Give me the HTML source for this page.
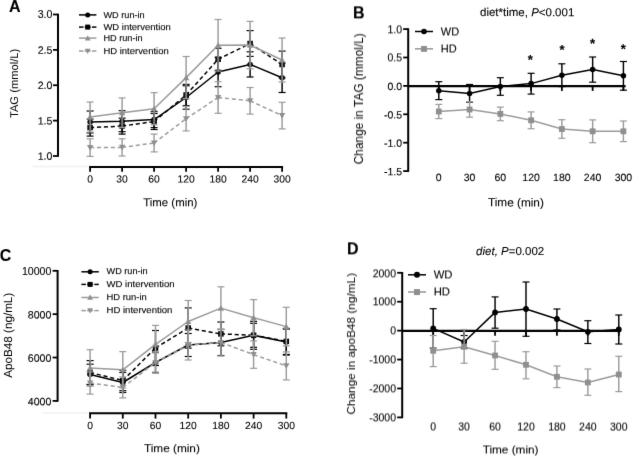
<!DOCTYPE html>
<html><head><meta charset="utf-8"><style>
html,body{margin:0;padding:0;background:#fff;width:633px;height:457px;overflow:hidden;}
svg{display:block;filter:grayscale(1);}
text{stroke:#000;stroke-width:0.1px;}
text.lg{stroke-width:0.12px;}
text.yl{stroke-width:0px;}
</style></head><body>
<svg width="633" height="457" viewBox="0 0 633 457">
<defs><filter id="bl" x="0" y="0" width="1" height="1" filterUnits="objectBoundingBox"><feConvolveMatrix order="3" kernelMatrix="0.00524 0.06192 0.00524 0.06192 0.73137 0.06192 0.00524 0.06192 0.00524" edgeMode="none" preserveAlpha="false"/></filter></defs>
<rect width="633" height="457" fill="#fff"/>
<g font-family='"Liberation Sans", sans-serif' filter="url(#bl)">
<line x1="58.00" y1="13.70" x2="58.00" y2="156.80" stroke="#000" stroke-width="2.0" />
<line x1="53.00" y1="14.50" x2="58.00" y2="14.50" stroke="#000" stroke-width="1.8" />
<line x1="53.00" y1="49.88" x2="58.00" y2="49.88" stroke="#000" stroke-width="1.8" />
<line x1="53.00" y1="85.25" x2="58.00" y2="85.25" stroke="#000" stroke-width="1.8" />
<line x1="53.00" y1="120.62" x2="58.00" y2="120.62" stroke="#000" stroke-width="1.8" />
<line x1="53.00" y1="156.00" x2="58.00" y2="156.00" stroke="#000" stroke-width="1.8" />
<line x1="32.00" y1="166.40" x2="88.00" y2="166.40" stroke="#f4f4f4" stroke-width="2.0" />
<line x1="89.10" y1="167.00" x2="283.10" y2="167.00" stroke="#000" stroke-width="2.0" />
<line x1="90.10" y1="167.00" x2="90.10" y2="171.80" stroke="#000" stroke-width="1.8" />
<line x1="122.10" y1="167.00" x2="122.10" y2="171.80" stroke="#000" stroke-width="1.8" />
<line x1="154.10" y1="167.00" x2="154.10" y2="171.80" stroke="#000" stroke-width="1.8" />
<line x1="186.10" y1="167.00" x2="186.10" y2="171.80" stroke="#000" stroke-width="1.8" />
<line x1="218.10" y1="167.00" x2="218.10" y2="171.80" stroke="#000" stroke-width="1.8" />
<line x1="250.10" y1="167.00" x2="250.10" y2="171.80" stroke="#000" stroke-width="1.8" />
<line x1="282.10" y1="167.00" x2="282.10" y2="171.80" stroke="#000" stroke-width="1.8" />
<line x1="79.00" y1="14.90" x2="96.40" y2="14.90" stroke="#000" stroke-width="1.5" />
<circle cx="87.70" cy="14.90" r="2.50" fill="#000"/>
<line x1="79.00" y1="27.10" x2="83.50" y2="27.10" stroke="#000" stroke-width="1.5" />
<line x1="91.90" y1="27.10" x2="96.40" y2="27.10" stroke="#000" stroke-width="1.5" />
<line x1="84.70" y1="27.10" x2="90.70" y2="27.10" stroke="#000" stroke-width="1.5" />
<rect x="85.20" y="24.60" width="5.00" height="5.00" fill="#000"/>
<line x1="79.00" y1="38.10" x2="96.40" y2="38.10" stroke="#9b9b9b" stroke-width="1.5" />
<path d="M87.70,35.20 L90.60,40.40 L84.80,40.40Z" fill="#8f8f8f"/>
<line x1="79.00" y1="51.00" x2="83.50" y2="51.00" stroke="#9b9b9b" stroke-width="1.5" />
<line x1="91.90" y1="51.00" x2="96.40" y2="51.00" stroke="#9b9b9b" stroke-width="1.5" />
<line x1="84.70" y1="51.00" x2="90.70" y2="51.00" stroke="#9b9b9b" stroke-width="1.5" />
<path d="M87.70,53.90 L90.60,48.70 L84.80,48.70Z" fill="#8f8f8f"/>
<line x1="90.10" y1="111.00" x2="90.10" y2="133.00" stroke="#000" stroke-width="1.45" />
<line x1="86.60" y1="111.00" x2="93.60" y2="111.00" stroke="#000" stroke-width="1.2" />
<line x1="86.60" y1="133.00" x2="93.60" y2="133.00" stroke="#000" stroke-width="1.2" />
<line x1="122.10" y1="110.70" x2="122.10" y2="131.70" stroke="#000" stroke-width="1.45" />
<line x1="118.60" y1="110.70" x2="125.60" y2="110.70" stroke="#000" stroke-width="1.2" />
<line x1="118.60" y1="131.70" x2="125.60" y2="131.70" stroke="#000" stroke-width="1.2" />
<line x1="154.10" y1="111.60" x2="154.10" y2="127.60" stroke="#000" stroke-width="1.45" />
<line x1="150.60" y1="111.60" x2="157.60" y2="111.60" stroke="#000" stroke-width="1.2" />
<line x1="150.60" y1="127.60" x2="157.60" y2="127.60" stroke="#000" stroke-width="1.2" />
<line x1="186.10" y1="85.80" x2="186.10" y2="109.20" stroke="#000" stroke-width="1.45" />
<line x1="182.60" y1="85.80" x2="189.60" y2="85.80" stroke="#000" stroke-width="1.2" />
<line x1="182.60" y1="109.20" x2="189.60" y2="109.20" stroke="#000" stroke-width="1.2" />
<line x1="218.10" y1="57.30" x2="218.10" y2="86.70" stroke="#000" stroke-width="1.45" />
<line x1="214.60" y1="57.30" x2="221.60" y2="57.30" stroke="#000" stroke-width="1.2" />
<line x1="214.60" y1="86.70" x2="221.60" y2="86.70" stroke="#000" stroke-width="1.2" />
<line x1="250.10" y1="51.80" x2="250.10" y2="77.00" stroke="#000" stroke-width="1.45" />
<line x1="246.60" y1="51.80" x2="253.60" y2="51.80" stroke="#000" stroke-width="1.2" />
<line x1="246.60" y1="77.00" x2="253.60" y2="77.00" stroke="#000" stroke-width="1.2" />
<line x1="282.10" y1="63.10" x2="282.10" y2="92.50" stroke="#000" stroke-width="1.45" />
<line x1="278.60" y1="63.10" x2="285.60" y2="63.10" stroke="#000" stroke-width="1.2" />
<line x1="278.60" y1="92.50" x2="285.60" y2="92.50" stroke="#000" stroke-width="1.2" />
<polyline points="90.10,122.00 122.10,121.20 154.10,119.60 186.10,97.50 218.10,72.00 250.10,64.40 282.10,77.80" fill="none" stroke="#000" stroke-width="1.5" stroke-linejoin="round" />
<circle cx="90.10" cy="122.00" r="2.75" fill="#000"/>
<circle cx="122.10" cy="121.20" r="2.75" fill="#000"/>
<circle cx="154.10" cy="119.60" r="2.75" fill="#000"/>
<circle cx="186.10" cy="97.50" r="2.75" fill="#000"/>
<circle cx="218.10" cy="72.00" r="2.75" fill="#000"/>
<circle cx="250.10" cy="64.40" r="2.75" fill="#000"/>
<circle cx="282.10" cy="77.80" r="2.75" fill="#000"/>
<line x1="90.10" y1="119.10" x2="90.10" y2="136.10" stroke="#000" stroke-width="1.45" />
<line x1="86.60" y1="119.10" x2="93.60" y2="119.10" stroke="#000" stroke-width="1.2" />
<line x1="86.60" y1="136.10" x2="93.60" y2="136.10" stroke="#000" stroke-width="1.2" />
<line x1="122.10" y1="118.10" x2="122.10" y2="134.10" stroke="#000" stroke-width="1.45" />
<line x1="118.60" y1="118.10" x2="125.60" y2="118.10" stroke="#000" stroke-width="1.2" />
<line x1="118.60" y1="134.10" x2="125.60" y2="134.10" stroke="#000" stroke-width="1.2" />
<line x1="154.10" y1="113.50" x2="154.10" y2="129.50" stroke="#000" stroke-width="1.45" />
<line x1="150.60" y1="113.50" x2="157.60" y2="113.50" stroke="#000" stroke-width="1.2" />
<line x1="150.60" y1="129.50" x2="157.60" y2="129.50" stroke="#000" stroke-width="1.2" />
<line x1="186.10" y1="84.40" x2="186.10" y2="105.60" stroke="#000" stroke-width="1.45" />
<line x1="182.60" y1="84.40" x2="189.60" y2="84.40" stroke="#000" stroke-width="1.2" />
<line x1="182.60" y1="105.60" x2="189.60" y2="105.60" stroke="#000" stroke-width="1.2" />
<line x1="218.10" y1="48.30" x2="218.10" y2="70.30" stroke="#000" stroke-width="1.45" />
<line x1="214.60" y1="48.30" x2="221.60" y2="48.30" stroke="#000" stroke-width="1.2" />
<line x1="214.60" y1="70.30" x2="221.60" y2="70.30" stroke="#000" stroke-width="1.2" />
<line x1="250.10" y1="30.60" x2="250.10" y2="56.40" stroke="#000" stroke-width="1.45" />
<line x1="246.60" y1="30.60" x2="253.60" y2="30.60" stroke="#000" stroke-width="1.2" />
<line x1="246.60" y1="56.40" x2="253.60" y2="56.40" stroke="#000" stroke-width="1.2" />
<line x1="282.10" y1="51.10" x2="282.10" y2="77.90" stroke="#000" stroke-width="1.45" />
<line x1="278.60" y1="51.10" x2="285.60" y2="51.10" stroke="#000" stroke-width="1.2" />
<line x1="278.60" y1="77.90" x2="285.60" y2="77.90" stroke="#000" stroke-width="1.2" />
<line x1="90.10" y1="127.60" x2="122.10" y2="126.10" stroke="#000" stroke-width="1.5" stroke-dasharray="4.1 2.8"/>
<line x1="122.10" y1="126.10" x2="154.10" y2="121.50" stroke="#000" stroke-width="1.5" stroke-dasharray="4.1 2.8"/>
<line x1="154.10" y1="121.50" x2="186.10" y2="95.00" stroke="#000" stroke-width="1.5" stroke-dasharray="4.1 2.8"/>
<line x1="186.10" y1="95.00" x2="218.10" y2="59.30" stroke="#000" stroke-width="1.5" stroke-dasharray="4.1 2.8"/>
<line x1="218.10" y1="59.30" x2="250.10" y2="43.50" stroke="#000" stroke-width="1.5" stroke-dasharray="4.1 2.8"/>
<line x1="250.10" y1="43.50" x2="282.10" y2="64.50" stroke="#000" stroke-width="1.5" stroke-dasharray="4.1 2.8"/>
<rect x="87.35" y="124.85" width="5.50" height="5.50" fill="#000"/>
<rect x="119.35" y="123.35" width="5.50" height="5.50" fill="#000"/>
<rect x="151.35" y="118.75" width="5.50" height="5.50" fill="#000"/>
<rect x="183.35" y="92.25" width="5.50" height="5.50" fill="#000"/>
<rect x="215.35" y="56.55" width="5.50" height="5.50" fill="#000"/>
<rect x="247.35" y="40.75" width="5.50" height="5.50" fill="#000"/>
<rect x="279.35" y="61.75" width="5.50" height="5.50" fill="#000"/>
<line x1="90.10" y1="102.00" x2="90.10" y2="132.00" stroke="#9b9b9b" stroke-width="1.45" />
<line x1="86.60" y1="102.00" x2="93.60" y2="102.00" stroke="#9b9b9b" stroke-width="1.2" />
<line x1="86.60" y1="132.00" x2="93.60" y2="132.00" stroke="#9b9b9b" stroke-width="1.2" />
<line x1="122.10" y1="97.90" x2="122.10" y2="127.50" stroke="#9b9b9b" stroke-width="1.45" />
<line x1="118.60" y1="97.90" x2="125.60" y2="97.90" stroke="#9b9b9b" stroke-width="1.2" />
<line x1="118.60" y1="127.50" x2="125.60" y2="127.50" stroke="#9b9b9b" stroke-width="1.2" />
<line x1="154.10" y1="92.60" x2="154.10" y2="124.80" stroke="#9b9b9b" stroke-width="1.45" />
<line x1="150.60" y1="92.60" x2="157.60" y2="92.60" stroke="#9b9b9b" stroke-width="1.2" />
<line x1="150.60" y1="124.80" x2="157.60" y2="124.80" stroke="#9b9b9b" stroke-width="1.2" />
<line x1="186.10" y1="56.50" x2="186.10" y2="98.70" stroke="#9b9b9b" stroke-width="1.45" />
<line x1="182.60" y1="56.50" x2="189.60" y2="56.50" stroke="#9b9b9b" stroke-width="1.2" />
<line x1="182.60" y1="98.70" x2="189.60" y2="98.70" stroke="#9b9b9b" stroke-width="1.2" />
<line x1="218.10" y1="19.50" x2="218.10" y2="71.10" stroke="#9b9b9b" stroke-width="1.45" />
<line x1="214.60" y1="19.50" x2="221.60" y2="19.50" stroke="#9b9b9b" stroke-width="1.2" />
<line x1="214.60" y1="71.10" x2="221.60" y2="71.10" stroke="#9b9b9b" stroke-width="1.2" />
<line x1="250.10" y1="21.40" x2="250.10" y2="68.80" stroke="#9b9b9b" stroke-width="1.45" />
<line x1="246.60" y1="21.40" x2="253.60" y2="21.40" stroke="#9b9b9b" stroke-width="1.2" />
<line x1="246.60" y1="68.80" x2="253.60" y2="68.80" stroke="#9b9b9b" stroke-width="1.2" />
<line x1="282.10" y1="38.00" x2="282.10" y2="82.00" stroke="#9b9b9b" stroke-width="1.45" />
<line x1="278.60" y1="38.00" x2="285.60" y2="38.00" stroke="#9b9b9b" stroke-width="1.2" />
<line x1="278.60" y1="82.00" x2="285.60" y2="82.00" stroke="#9b9b9b" stroke-width="1.2" />
<polyline points="90.10,117.00 122.10,112.70 154.10,108.70 186.10,77.60 218.10,45.30 250.10,45.10 282.10,60.00" fill="none" stroke="#9b9b9b" stroke-width="1.5" stroke-linejoin="round" />
<path d="M90.10,113.85 L93.25,119.55 L86.95,119.55Z" fill="#8f8f8f"/>
<path d="M122.10,109.55 L125.25,115.25 L118.95,115.25Z" fill="#8f8f8f"/>
<path d="M154.10,105.55 L157.25,111.25 L150.95,111.25Z" fill="#8f8f8f"/>
<path d="M186.10,74.45 L189.25,80.15 L182.95,80.15Z" fill="#8f8f8f"/>
<path d="M218.10,42.15 L221.25,47.85 L214.95,47.85Z" fill="#8f8f8f"/>
<path d="M250.10,41.95 L253.25,47.65 L246.95,47.65Z" fill="#8f8f8f"/>
<path d="M282.10,56.85 L285.25,62.55 L278.95,62.55Z" fill="#8f8f8f"/>
<line x1="90.10" y1="138.80" x2="90.10" y2="156.40" stroke="#9b9b9b" stroke-width="1.45" />
<line x1="86.60" y1="138.80" x2="93.60" y2="138.80" stroke="#9b9b9b" stroke-width="1.2" />
<line x1="86.60" y1="156.40" x2="93.60" y2="156.40" stroke="#9b9b9b" stroke-width="1.2" />
<line x1="122.10" y1="138.80" x2="122.10" y2="156.00" stroke="#9b9b9b" stroke-width="1.45" />
<line x1="118.60" y1="138.80" x2="125.60" y2="138.80" stroke="#9b9b9b" stroke-width="1.2" />
<line x1="118.60" y1="156.00" x2="125.60" y2="156.00" stroke="#9b9b9b" stroke-width="1.2" />
<line x1="154.10" y1="134.10" x2="154.10" y2="151.90" stroke="#9b9b9b" stroke-width="1.45" />
<line x1="150.60" y1="134.10" x2="157.60" y2="134.10" stroke="#9b9b9b" stroke-width="1.2" />
<line x1="150.60" y1="151.90" x2="157.60" y2="151.90" stroke="#9b9b9b" stroke-width="1.2" />
<line x1="186.10" y1="106.50" x2="186.10" y2="130.90" stroke="#9b9b9b" stroke-width="1.45" />
<line x1="182.60" y1="106.50" x2="189.60" y2="106.50" stroke="#9b9b9b" stroke-width="1.2" />
<line x1="182.60" y1="130.90" x2="189.60" y2="130.90" stroke="#9b9b9b" stroke-width="1.2" />
<line x1="218.10" y1="81.70" x2="218.10" y2="113.30" stroke="#9b9b9b" stroke-width="1.45" />
<line x1="214.60" y1="81.70" x2="221.60" y2="81.70" stroke="#9b9b9b" stroke-width="1.2" />
<line x1="214.60" y1="113.30" x2="221.60" y2="113.30" stroke="#9b9b9b" stroke-width="1.2" />
<line x1="250.10" y1="87.50" x2="250.10" y2="114.10" stroke="#9b9b9b" stroke-width="1.45" />
<line x1="246.60" y1="87.50" x2="253.60" y2="87.50" stroke="#9b9b9b" stroke-width="1.2" />
<line x1="246.60" y1="114.10" x2="253.60" y2="114.10" stroke="#9b9b9b" stroke-width="1.2" />
<line x1="282.10" y1="102.30" x2="282.10" y2="128.90" stroke="#9b9b9b" stroke-width="1.45" />
<line x1="278.60" y1="102.30" x2="285.60" y2="102.30" stroke="#9b9b9b" stroke-width="1.2" />
<line x1="278.60" y1="128.90" x2="285.60" y2="128.90" stroke="#9b9b9b" stroke-width="1.2" />
<line x1="90.10" y1="147.60" x2="122.10" y2="147.40" stroke="#9b9b9b" stroke-width="1.5" stroke-dasharray="4.1 2.8"/>
<line x1="122.10" y1="147.40" x2="154.10" y2="143.00" stroke="#9b9b9b" stroke-width="1.5" stroke-dasharray="4.1 2.8"/>
<line x1="154.10" y1="143.00" x2="186.10" y2="118.70" stroke="#9b9b9b" stroke-width="1.5" stroke-dasharray="4.1 2.8"/>
<line x1="186.10" y1="118.70" x2="218.10" y2="97.50" stroke="#9b9b9b" stroke-width="1.5" stroke-dasharray="4.1 2.8"/>
<line x1="218.10" y1="97.50" x2="250.10" y2="100.80" stroke="#9b9b9b" stroke-width="1.5" stroke-dasharray="4.1 2.8"/>
<line x1="250.10" y1="100.80" x2="282.10" y2="115.60" stroke="#9b9b9b" stroke-width="1.5" stroke-dasharray="4.1 2.8"/>
<path d="M90.10,150.75 L93.25,145.05 L86.95,145.05Z" fill="#8f8f8f"/>
<path d="M122.10,150.55 L125.25,144.85 L118.95,144.85Z" fill="#8f8f8f"/>
<path d="M154.10,146.15 L157.25,140.45 L150.95,140.45Z" fill="#8f8f8f"/>
<path d="M186.10,121.85 L189.25,116.15 L182.95,116.15Z" fill="#8f8f8f"/>
<path d="M218.10,100.65 L221.25,94.95 L214.95,94.95Z" fill="#8f8f8f"/>
<path d="M250.10,103.95 L253.25,98.25 L246.95,98.25Z" fill="#8f8f8f"/>
<path d="M282.10,118.75 L285.25,113.05 L278.95,113.05Z" fill="#8f8f8f"/>
<line x1="57.60" y1="270.00" x2="57.60" y2="401.70" stroke="#000" stroke-width="2.0" />
<line x1="52.60" y1="270.80" x2="57.60" y2="270.80" stroke="#000" stroke-width="1.8" />
<line x1="52.60" y1="314.17" x2="57.60" y2="314.17" stroke="#000" stroke-width="1.8" />
<line x1="52.60" y1="357.53" x2="57.60" y2="357.53" stroke="#000" stroke-width="1.8" />
<line x1="52.60" y1="400.90" x2="57.60" y2="400.90" stroke="#000" stroke-width="1.8" />
<line x1="43.00" y1="412.90" x2="88.00" y2="412.90" stroke="#f4f4f4" stroke-width="2.0" />
<line x1="89.10" y1="413.30" x2="287.30" y2="413.30" stroke="#000" stroke-width="2.0" />
<line x1="90.10" y1="413.30" x2="90.10" y2="418.60" stroke="#000" stroke-width="1.8" />
<line x1="122.80" y1="413.30" x2="122.80" y2="418.60" stroke="#000" stroke-width="1.8" />
<line x1="155.50" y1="413.30" x2="155.50" y2="418.60" stroke="#000" stroke-width="1.8" />
<line x1="188.20" y1="413.30" x2="188.20" y2="418.60" stroke="#000" stroke-width="1.8" />
<line x1="220.90" y1="413.30" x2="220.90" y2="418.60" stroke="#000" stroke-width="1.8" />
<line x1="253.60" y1="413.30" x2="253.60" y2="418.60" stroke="#000" stroke-width="1.8" />
<line x1="286.30" y1="413.30" x2="286.30" y2="418.60" stroke="#000" stroke-width="1.8" />
<line x1="81.40" y1="271.80" x2="98.80" y2="271.80" stroke="#000" stroke-width="1.5" />
<circle cx="90.10" cy="271.80" r="2.50" fill="#000"/>
<line x1="81.40" y1="284.40" x2="85.90" y2="284.40" stroke="#000" stroke-width="1.5" />
<line x1="94.30" y1="284.40" x2="98.80" y2="284.40" stroke="#000" stroke-width="1.5" />
<line x1="87.10" y1="284.40" x2="93.10" y2="284.40" stroke="#000" stroke-width="1.5" />
<rect x="87.60" y="281.90" width="5.00" height="5.00" fill="#000"/>
<line x1="81.40" y1="297.50" x2="98.80" y2="297.50" stroke="#9b9b9b" stroke-width="1.5" />
<path d="M90.10,294.60 L93.00,299.80 L87.20,299.80Z" fill="#8f8f8f"/>
<line x1="81.40" y1="310.60" x2="85.90" y2="310.60" stroke="#9b9b9b" stroke-width="1.5" />
<line x1="94.30" y1="310.60" x2="98.80" y2="310.60" stroke="#9b9b9b" stroke-width="1.5" />
<line x1="87.10" y1="310.60" x2="93.10" y2="310.60" stroke="#9b9b9b" stroke-width="1.5" />
<path d="M90.10,313.50 L93.00,308.30 L87.20,308.30Z" fill="#8f8f8f"/>
<line x1="90.10" y1="364.20" x2="90.10" y2="384.80" stroke="#000" stroke-width="1.45" />
<line x1="86.60" y1="364.20" x2="93.60" y2="364.20" stroke="#000" stroke-width="1.2" />
<line x1="86.60" y1="384.80" x2="93.60" y2="384.80" stroke="#000" stroke-width="1.2" />
<line x1="122.80" y1="372.50" x2="122.80" y2="392.50" stroke="#000" stroke-width="1.45" />
<line x1="119.30" y1="372.50" x2="126.30" y2="372.50" stroke="#000" stroke-width="1.2" />
<line x1="119.30" y1="392.50" x2="126.30" y2="392.50" stroke="#000" stroke-width="1.2" />
<line x1="155.50" y1="352.20" x2="155.50" y2="372.80" stroke="#000" stroke-width="1.45" />
<line x1="152.00" y1="352.20" x2="159.00" y2="352.20" stroke="#000" stroke-width="1.2" />
<line x1="152.00" y1="372.80" x2="159.00" y2="372.80" stroke="#000" stroke-width="1.2" />
<line x1="188.20" y1="333.50" x2="188.20" y2="356.50" stroke="#000" stroke-width="1.45" />
<line x1="184.70" y1="333.50" x2="191.70" y2="333.50" stroke="#000" stroke-width="1.2" />
<line x1="184.70" y1="356.50" x2="191.70" y2="356.50" stroke="#000" stroke-width="1.2" />
<line x1="220.90" y1="329.50" x2="220.90" y2="355.50" stroke="#000" stroke-width="1.45" />
<line x1="217.40" y1="329.50" x2="224.40" y2="329.50" stroke="#000" stroke-width="1.2" />
<line x1="217.40" y1="355.50" x2="224.40" y2="355.50" stroke="#000" stroke-width="1.2" />
<line x1="253.60" y1="323.30" x2="253.60" y2="347.30" stroke="#000" stroke-width="1.45" />
<line x1="250.10" y1="323.30" x2="257.10" y2="323.30" stroke="#000" stroke-width="1.2" />
<line x1="250.10" y1="347.30" x2="257.10" y2="347.30" stroke="#000" stroke-width="1.2" />
<line x1="286.30" y1="329.10" x2="286.30" y2="355.10" stroke="#000" stroke-width="1.45" />
<line x1="282.80" y1="329.10" x2="289.80" y2="329.10" stroke="#000" stroke-width="1.2" />
<line x1="282.80" y1="355.10" x2="289.80" y2="355.10" stroke="#000" stroke-width="1.2" />
<polyline points="90.10,374.50 122.80,382.50 155.50,362.50 188.20,345.00 220.90,342.50 253.60,335.30 286.30,342.10" fill="none" stroke="#000" stroke-width="1.5" stroke-linejoin="round" />
<circle cx="90.10" cy="374.50" r="2.75" fill="#000"/>
<circle cx="122.80" cy="382.50" r="2.75" fill="#000"/>
<circle cx="155.50" cy="362.50" r="2.75" fill="#000"/>
<circle cx="188.20" cy="345.00" r="2.75" fill="#000"/>
<circle cx="220.90" cy="342.50" r="2.75" fill="#000"/>
<circle cx="253.60" cy="335.30" r="2.75" fill="#000"/>
<circle cx="286.30" cy="342.10" r="2.75" fill="#000"/>
<line x1="90.10" y1="360.60" x2="90.10" y2="384.40" stroke="#000" stroke-width="1.45" />
<line x1="86.60" y1="360.60" x2="93.60" y2="360.60" stroke="#000" stroke-width="1.2" />
<line x1="86.60" y1="384.40" x2="93.60" y2="384.40" stroke="#000" stroke-width="1.2" />
<line x1="122.80" y1="370.30" x2="122.80" y2="390.70" stroke="#000" stroke-width="1.45" />
<line x1="119.30" y1="370.30" x2="126.30" y2="370.30" stroke="#000" stroke-width="1.2" />
<line x1="119.30" y1="390.70" x2="126.30" y2="390.70" stroke="#000" stroke-width="1.2" />
<line x1="155.50" y1="330.50" x2="155.50" y2="365.50" stroke="#000" stroke-width="1.45" />
<line x1="152.00" y1="330.50" x2="159.00" y2="330.50" stroke="#000" stroke-width="1.2" />
<line x1="152.00" y1="365.50" x2="159.00" y2="365.50" stroke="#000" stroke-width="1.2" />
<line x1="188.20" y1="307.90" x2="188.20" y2="348.10" stroke="#000" stroke-width="1.45" />
<line x1="184.70" y1="307.90" x2="191.70" y2="307.90" stroke="#000" stroke-width="1.2" />
<line x1="184.70" y1="348.10" x2="191.70" y2="348.10" stroke="#000" stroke-width="1.2" />
<line x1="220.90" y1="322.00" x2="220.90" y2="345.80" stroke="#000" stroke-width="1.45" />
<line x1="217.40" y1="322.00" x2="224.40" y2="322.00" stroke="#000" stroke-width="1.2" />
<line x1="217.40" y1="345.80" x2="224.40" y2="345.80" stroke="#000" stroke-width="1.2" />
<line x1="253.60" y1="321.30" x2="253.60" y2="349.30" stroke="#000" stroke-width="1.45" />
<line x1="250.10" y1="321.30" x2="257.10" y2="321.30" stroke="#000" stroke-width="1.2" />
<line x1="250.10" y1="349.30" x2="257.10" y2="349.30" stroke="#000" stroke-width="1.2" />
<line x1="286.30" y1="328.40" x2="286.30" y2="354.40" stroke="#000" stroke-width="1.45" />
<line x1="282.80" y1="328.40" x2="289.80" y2="328.40" stroke="#000" stroke-width="1.2" />
<line x1="282.80" y1="354.40" x2="289.80" y2="354.40" stroke="#000" stroke-width="1.2" />
<line x1="90.10" y1="372.50" x2="122.80" y2="380.50" stroke="#000" stroke-width="1.5" stroke-dasharray="4.1 2.8"/>
<line x1="122.80" y1="380.50" x2="155.50" y2="348.00" stroke="#000" stroke-width="1.5" stroke-dasharray="4.1 2.8"/>
<line x1="155.50" y1="348.00" x2="188.20" y2="328.00" stroke="#000" stroke-width="1.5" stroke-dasharray="4.1 2.8"/>
<line x1="188.20" y1="328.00" x2="220.90" y2="333.90" stroke="#000" stroke-width="1.5" stroke-dasharray="4.1 2.8"/>
<line x1="220.90" y1="333.90" x2="253.60" y2="335.30" stroke="#000" stroke-width="1.5" stroke-dasharray="4.1 2.8"/>
<line x1="253.60" y1="335.30" x2="286.30" y2="341.40" stroke="#000" stroke-width="1.5" stroke-dasharray="4.1 2.8"/>
<rect x="87.35" y="369.75" width="5.50" height="5.50" fill="#000"/>
<rect x="120.05" y="377.75" width="5.50" height="5.50" fill="#000"/>
<rect x="152.75" y="345.25" width="5.50" height="5.50" fill="#000"/>
<rect x="185.45" y="325.25" width="5.50" height="5.50" fill="#000"/>
<rect x="218.15" y="331.15" width="5.50" height="5.50" fill="#000"/>
<rect x="250.85" y="332.55" width="5.50" height="5.50" fill="#000"/>
<rect x="283.55" y="338.65" width="5.50" height="5.50" fill="#000"/>
<line x1="90.10" y1="349.70" x2="90.10" y2="386.30" stroke="#9b9b9b" stroke-width="1.45" />
<line x1="86.60" y1="349.70" x2="93.60" y2="349.70" stroke="#9b9b9b" stroke-width="1.2" />
<line x1="86.60" y1="386.30" x2="93.60" y2="386.30" stroke="#9b9b9b" stroke-width="1.2" />
<line x1="122.80" y1="351.60" x2="122.80" y2="388.00" stroke="#9b9b9b" stroke-width="1.45" />
<line x1="119.30" y1="351.60" x2="126.30" y2="351.60" stroke="#9b9b9b" stroke-width="1.2" />
<line x1="119.30" y1="388.00" x2="126.30" y2="388.00" stroke="#9b9b9b" stroke-width="1.2" />
<line x1="155.50" y1="325.40" x2="155.50" y2="363.20" stroke="#9b9b9b" stroke-width="1.45" />
<line x1="152.00" y1="325.40" x2="159.00" y2="325.40" stroke="#9b9b9b" stroke-width="1.2" />
<line x1="152.00" y1="363.20" x2="159.00" y2="363.20" stroke="#9b9b9b" stroke-width="1.2" />
<line x1="188.20" y1="300.50" x2="188.20" y2="342.50" stroke="#9b9b9b" stroke-width="1.45" />
<line x1="184.70" y1="300.50" x2="191.70" y2="300.50" stroke="#9b9b9b" stroke-width="1.2" />
<line x1="184.70" y1="342.50" x2="191.70" y2="342.50" stroke="#9b9b9b" stroke-width="1.2" />
<line x1="220.90" y1="286.80" x2="220.90" y2="329.40" stroke="#9b9b9b" stroke-width="1.45" />
<line x1="217.40" y1="286.80" x2="224.40" y2="286.80" stroke="#9b9b9b" stroke-width="1.2" />
<line x1="217.40" y1="329.40" x2="224.40" y2="329.40" stroke="#9b9b9b" stroke-width="1.2" />
<line x1="253.60" y1="299.60" x2="253.60" y2="335.80" stroke="#9b9b9b" stroke-width="1.45" />
<line x1="250.10" y1="299.60" x2="257.10" y2="299.60" stroke="#9b9b9b" stroke-width="1.2" />
<line x1="250.10" y1="335.80" x2="257.10" y2="335.80" stroke="#9b9b9b" stroke-width="1.2" />
<line x1="286.30" y1="307.30" x2="286.30" y2="345.90" stroke="#9b9b9b" stroke-width="1.45" />
<line x1="282.80" y1="307.30" x2="289.80" y2="307.30" stroke="#9b9b9b" stroke-width="1.2" />
<line x1="282.80" y1="345.90" x2="289.80" y2="345.90" stroke="#9b9b9b" stroke-width="1.2" />
<polyline points="90.10,368.00 122.80,369.80 155.50,344.30 188.20,321.50 220.90,308.10 253.60,317.70 286.30,326.60" fill="none" stroke="#9b9b9b" stroke-width="1.5" stroke-linejoin="round" />
<path d="M90.10,364.85 L93.25,370.55 L86.95,370.55Z" fill="#8f8f8f"/>
<path d="M122.80,366.65 L125.95,372.35 L119.65,372.35Z" fill="#8f8f8f"/>
<path d="M155.50,341.15 L158.65,346.85 L152.35,346.85Z" fill="#8f8f8f"/>
<path d="M188.20,318.35 L191.35,324.05 L185.05,324.05Z" fill="#8f8f8f"/>
<path d="M220.90,304.95 L224.05,310.65 L217.75,310.65Z" fill="#8f8f8f"/>
<path d="M253.60,314.55 L256.75,320.25 L250.45,320.25Z" fill="#8f8f8f"/>
<path d="M286.30,323.45 L289.45,329.15 L283.15,329.15Z" fill="#8f8f8f"/>
<line x1="90.10" y1="371.90" x2="90.10" y2="394.10" stroke="#9b9b9b" stroke-width="1.45" />
<line x1="86.60" y1="371.90" x2="93.60" y2="371.90" stroke="#9b9b9b" stroke-width="1.2" />
<line x1="86.60" y1="394.10" x2="93.60" y2="394.10" stroke="#9b9b9b" stroke-width="1.2" />
<line x1="122.80" y1="376.90" x2="122.80" y2="397.90" stroke="#9b9b9b" stroke-width="1.45" />
<line x1="119.30" y1="376.90" x2="126.30" y2="376.90" stroke="#9b9b9b" stroke-width="1.2" />
<line x1="119.30" y1="397.90" x2="126.30" y2="397.90" stroke="#9b9b9b" stroke-width="1.2" />
<line x1="155.50" y1="352.90" x2="155.50" y2="372.10" stroke="#9b9b9b" stroke-width="1.45" />
<line x1="152.00" y1="352.90" x2="159.00" y2="352.90" stroke="#9b9b9b" stroke-width="1.2" />
<line x1="152.00" y1="372.10" x2="159.00" y2="372.10" stroke="#9b9b9b" stroke-width="1.2" />
<line x1="188.20" y1="330.00" x2="188.20" y2="360.00" stroke="#9b9b9b" stroke-width="1.45" />
<line x1="184.70" y1="330.00" x2="191.70" y2="330.00" stroke="#9b9b9b" stroke-width="1.2" />
<line x1="184.70" y1="360.00" x2="191.70" y2="360.00" stroke="#9b9b9b" stroke-width="1.2" />
<line x1="220.90" y1="329.00" x2="220.90" y2="356.00" stroke="#9b9b9b" stroke-width="1.45" />
<line x1="217.40" y1="329.00" x2="224.40" y2="329.00" stroke="#9b9b9b" stroke-width="1.2" />
<line x1="217.40" y1="356.00" x2="224.40" y2="356.00" stroke="#9b9b9b" stroke-width="1.2" />
<line x1="253.60" y1="340.90" x2="253.60" y2="368.30" stroke="#9b9b9b" stroke-width="1.45" />
<line x1="250.10" y1="340.90" x2="257.10" y2="340.90" stroke="#9b9b9b" stroke-width="1.2" />
<line x1="250.10" y1="368.30" x2="257.10" y2="368.30" stroke="#9b9b9b" stroke-width="1.2" />
<line x1="286.30" y1="351.90" x2="286.30" y2="379.90" stroke="#9b9b9b" stroke-width="1.45" />
<line x1="282.80" y1="351.90" x2="289.80" y2="351.90" stroke="#9b9b9b" stroke-width="1.2" />
<line x1="282.80" y1="379.90" x2="289.80" y2="379.90" stroke="#9b9b9b" stroke-width="1.2" />
<line x1="90.10" y1="383.00" x2="122.80" y2="387.40" stroke="#9b9b9b" stroke-width="1.5" stroke-dasharray="4.1 2.8"/>
<line x1="122.80" y1="387.40" x2="155.50" y2="362.50" stroke="#9b9b9b" stroke-width="1.5" stroke-dasharray="4.1 2.8"/>
<line x1="155.50" y1="362.50" x2="188.20" y2="345.00" stroke="#9b9b9b" stroke-width="1.5" stroke-dasharray="4.1 2.8"/>
<line x1="188.20" y1="345.00" x2="220.90" y2="342.50" stroke="#9b9b9b" stroke-width="1.5" stroke-dasharray="4.1 2.8"/>
<line x1="220.90" y1="342.50" x2="253.60" y2="354.60" stroke="#9b9b9b" stroke-width="1.5" stroke-dasharray="4.1 2.8"/>
<line x1="253.60" y1="354.60" x2="286.30" y2="365.90" stroke="#9b9b9b" stroke-width="1.5" stroke-dasharray="4.1 2.8"/>
<path d="M90.10,386.15 L93.25,380.45 L86.95,380.45Z" fill="#8f8f8f"/>
<path d="M122.80,390.55 L125.95,384.85 L119.65,384.85Z" fill="#8f8f8f"/>
<path d="M155.50,365.65 L158.65,359.95 L152.35,359.95Z" fill="#8f8f8f"/>
<path d="M188.20,348.15 L191.35,342.45 L185.05,342.45Z" fill="#8f8f8f"/>
<path d="M220.90,345.65 L224.05,339.95 L217.75,339.95Z" fill="#8f8f8f"/>
<path d="M253.60,357.75 L256.75,352.05 L250.45,352.05Z" fill="#8f8f8f"/>
<path d="M286.30,369.05 L289.45,363.35 L283.15,363.35Z" fill="#8f8f8f"/>
<line x1="408.20" y1="28.30" x2="408.20" y2="171.90" stroke="#000" stroke-width="2.0" />
<line x1="403.20" y1="29.10" x2="408.20" y2="29.10" stroke="#000" stroke-width="1.8" />
<line x1="403.20" y1="57.50" x2="408.20" y2="57.50" stroke="#000" stroke-width="1.8" />
<line x1="403.20" y1="85.90" x2="408.20" y2="85.90" stroke="#000" stroke-width="1.8" />
<line x1="403.20" y1="114.30" x2="408.20" y2="114.30" stroke="#000" stroke-width="1.8" />
<line x1="403.20" y1="142.70" x2="408.20" y2="142.70" stroke="#000" stroke-width="1.8" />
<line x1="403.20" y1="171.10" x2="408.20" y2="171.10" stroke="#000" stroke-width="1.8" />
<line x1="408.20" y1="86.10" x2="625.60" y2="86.10" stroke="#000" stroke-width="2.3" />
<line x1="438.80" y1="85.90" x2="438.80" y2="90.90" stroke="#000" stroke-width="1.8" />
<line x1="469.57" y1="85.90" x2="469.57" y2="90.90" stroke="#000" stroke-width="1.8" />
<line x1="500.34" y1="85.90" x2="500.34" y2="90.90" stroke="#000" stroke-width="1.8" />
<line x1="531.11" y1="85.90" x2="531.11" y2="90.90" stroke="#000" stroke-width="1.8" />
<line x1="561.88" y1="85.90" x2="561.88" y2="90.90" stroke="#000" stroke-width="1.8" />
<line x1="592.65" y1="85.90" x2="592.65" y2="90.90" stroke="#000" stroke-width="1.8" />
<line x1="623.42" y1="85.90" x2="623.42" y2="90.90" stroke="#000" stroke-width="1.8" />
<line x1="415.00" y1="31.50" x2="433.00" y2="31.50" stroke="#000" stroke-width="1.5" />
<circle cx="424.00" cy="31.50" r="2.80" fill="#000"/>
<line x1="415.00" y1="48.80" x2="433.00" y2="48.80" stroke="#9b9b9b" stroke-width="1.6" />
<rect x="421.05" y="45.95" width="5.90" height="5.90" fill="#8f8f8f"/>
<line x1="438.80" y1="81.70" x2="438.80" y2="99.60" stroke="#000" stroke-width="1.45" />
<line x1="435.30" y1="81.70" x2="442.30" y2="81.70" stroke="#000" stroke-width="1.2" />
<line x1="435.30" y1="99.60" x2="442.30" y2="99.60" stroke="#000" stroke-width="1.2" />
<line x1="469.57" y1="84.50" x2="469.57" y2="102.30" stroke="#000" stroke-width="1.45" />
<line x1="466.07" y1="84.50" x2="473.07" y2="84.50" stroke="#000" stroke-width="1.2" />
<line x1="466.07" y1="102.30" x2="473.07" y2="102.30" stroke="#000" stroke-width="1.2" />
<line x1="500.34" y1="77.70" x2="500.34" y2="95.30" stroke="#000" stroke-width="1.45" />
<line x1="496.84" y1="77.70" x2="503.84" y2="77.70" stroke="#000" stroke-width="1.2" />
<line x1="496.84" y1="95.30" x2="503.84" y2="95.30" stroke="#000" stroke-width="1.2" />
<line x1="531.11" y1="73.30" x2="531.11" y2="94.10" stroke="#000" stroke-width="1.45" />
<line x1="527.61" y1="73.30" x2="534.61" y2="73.30" stroke="#000" stroke-width="1.2" />
<line x1="527.61" y1="94.10" x2="534.61" y2="94.10" stroke="#000" stroke-width="1.2" />
<line x1="561.88" y1="63.80" x2="561.88" y2="86.60" stroke="#000" stroke-width="1.45" />
<line x1="558.38" y1="63.80" x2="565.38" y2="63.80" stroke="#000" stroke-width="1.2" />
<line x1="558.38" y1="86.60" x2="565.38" y2="86.60" stroke="#000" stroke-width="1.2" />
<line x1="592.65" y1="57.00" x2="592.65" y2="82.20" stroke="#000" stroke-width="1.45" />
<line x1="589.15" y1="57.00" x2="596.15" y2="57.00" stroke="#000" stroke-width="1.2" />
<line x1="589.15" y1="82.20" x2="596.15" y2="82.20" stroke="#000" stroke-width="1.2" />
<line x1="623.42" y1="61.50" x2="623.42" y2="90.20" stroke="#000" stroke-width="1.45" />
<line x1="619.92" y1="61.50" x2="626.92" y2="61.50" stroke="#000" stroke-width="1.2" />
<line x1="619.92" y1="90.20" x2="626.92" y2="90.20" stroke="#000" stroke-width="1.2" />
<polyline points="438.80,90.70 469.57,93.50 500.34,86.50 531.11,83.60 561.88,75.20 592.65,69.60 623.42,75.70" fill="none" stroke="#000" stroke-width="1.5" stroke-linejoin="round" />
<circle cx="438.80" cy="90.70" r="2.75" fill="#000"/>
<circle cx="469.57" cy="93.50" r="2.75" fill="#000"/>
<circle cx="500.34" cy="86.50" r="2.75" fill="#000"/>
<circle cx="531.11" cy="83.60" r="2.75" fill="#000"/>
<circle cx="561.88" cy="75.20" r="2.75" fill="#000"/>
<circle cx="592.65" cy="69.60" r="2.75" fill="#000"/>
<circle cx="623.42" cy="75.70" r="2.75" fill="#000"/>
<line x1="438.80" y1="104.40" x2="438.80" y2="118.60" stroke="#9b9b9b" stroke-width="1.45" />
<line x1="435.30" y1="104.40" x2="442.30" y2="104.40" stroke="#9b9b9b" stroke-width="1.2" />
<line x1="435.30" y1="118.60" x2="442.30" y2="118.60" stroke="#9b9b9b" stroke-width="1.2" />
<line x1="469.57" y1="101.80" x2="469.57" y2="117.20" stroke="#9b9b9b" stroke-width="1.45" />
<line x1="466.07" y1="101.80" x2="473.07" y2="101.80" stroke="#9b9b9b" stroke-width="1.2" />
<line x1="466.07" y1="117.20" x2="473.07" y2="117.20" stroke="#9b9b9b" stroke-width="1.2" />
<line x1="500.34" y1="107.10" x2="500.34" y2="120.70" stroke="#9b9b9b" stroke-width="1.45" />
<line x1="496.84" y1="107.10" x2="503.84" y2="107.10" stroke="#9b9b9b" stroke-width="1.2" />
<line x1="496.84" y1="120.70" x2="503.84" y2="120.70" stroke="#9b9b9b" stroke-width="1.2" />
<line x1="531.11" y1="111.90" x2="531.11" y2="128.70" stroke="#9b9b9b" stroke-width="1.45" />
<line x1="527.61" y1="111.90" x2="534.61" y2="111.90" stroke="#9b9b9b" stroke-width="1.2" />
<line x1="527.61" y1="128.70" x2="534.61" y2="128.70" stroke="#9b9b9b" stroke-width="1.2" />
<line x1="561.88" y1="119.70" x2="561.88" y2="138.30" stroke="#9b9b9b" stroke-width="1.45" />
<line x1="558.38" y1="119.70" x2="565.38" y2="119.70" stroke="#9b9b9b" stroke-width="1.2" />
<line x1="558.38" y1="138.30" x2="565.38" y2="138.30" stroke="#9b9b9b" stroke-width="1.2" />
<line x1="592.65" y1="119.90" x2="592.65" y2="142.70" stroke="#9b9b9b" stroke-width="1.45" />
<line x1="589.15" y1="119.90" x2="596.15" y2="119.90" stroke="#9b9b9b" stroke-width="1.2" />
<line x1="589.15" y1="142.70" x2="596.15" y2="142.70" stroke="#9b9b9b" stroke-width="1.2" />
<line x1="623.42" y1="121.00" x2="623.42" y2="141.60" stroke="#9b9b9b" stroke-width="1.45" />
<line x1="619.92" y1="121.00" x2="626.92" y2="121.00" stroke="#9b9b9b" stroke-width="1.2" />
<line x1="619.92" y1="141.60" x2="626.92" y2="141.60" stroke="#9b9b9b" stroke-width="1.2" />
<polyline points="438.80,111.50 469.57,109.50 500.34,113.90 531.11,120.30 561.88,129.00 592.65,131.30 623.42,131.30" fill="none" stroke="#9b9b9b" stroke-width="1.5" stroke-linejoin="round" />
<rect x="435.90" y="108.60" width="5.80" height="5.80" fill="#8f8f8f"/>
<rect x="466.67" y="106.60" width="5.80" height="5.80" fill="#8f8f8f"/>
<rect x="497.44" y="111.00" width="5.80" height="5.80" fill="#8f8f8f"/>
<rect x="528.21" y="117.40" width="5.80" height="5.80" fill="#8f8f8f"/>
<rect x="558.98" y="126.10" width="5.80" height="5.80" fill="#8f8f8f"/>
<rect x="589.75" y="128.40" width="5.80" height="5.80" fill="#8f8f8f"/>
<rect x="620.52" y="128.40" width="5.80" height="5.80" fill="#8f8f8f"/>
<line x1="402.20" y1="272.00" x2="402.20" y2="418.20" stroke="#000" stroke-width="2.0" />
<line x1="397.20" y1="272.80" x2="402.20" y2="272.80" stroke="#000" stroke-width="1.8" />
<line x1="397.20" y1="301.72" x2="402.20" y2="301.72" stroke="#000" stroke-width="1.8" />
<line x1="397.20" y1="330.64" x2="402.20" y2="330.64" stroke="#000" stroke-width="1.8" />
<line x1="397.20" y1="359.56" x2="402.20" y2="359.56" stroke="#000" stroke-width="1.8" />
<line x1="397.20" y1="388.48" x2="402.20" y2="388.48" stroke="#000" stroke-width="1.8" />
<line x1="397.20" y1="417.40" x2="402.20" y2="417.40" stroke="#000" stroke-width="1.8" />
<line x1="402.20" y1="330.94" x2="621.00" y2="330.94" stroke="#000" stroke-width="2.3" />
<line x1="433.20" y1="330.64" x2="433.20" y2="335.64" stroke="#000" stroke-width="1.8" />
<line x1="464.13" y1="330.64" x2="464.13" y2="335.64" stroke="#000" stroke-width="1.8" />
<line x1="495.06" y1="330.64" x2="495.06" y2="335.64" stroke="#000" stroke-width="1.8" />
<line x1="525.99" y1="330.64" x2="525.99" y2="335.64" stroke="#000" stroke-width="1.8" />
<line x1="556.92" y1="330.64" x2="556.92" y2="335.64" stroke="#000" stroke-width="1.8" />
<line x1="587.85" y1="330.64" x2="587.85" y2="335.64" stroke="#000" stroke-width="1.8" />
<line x1="618.78" y1="330.64" x2="618.78" y2="335.64" stroke="#000" stroke-width="1.8" />
<line x1="408.00" y1="274.80" x2="426.00" y2="274.80" stroke="#000" stroke-width="1.5" />
<circle cx="417.00" cy="274.80" r="3.00" fill="#000"/>
<line x1="408.00" y1="292.00" x2="426.00" y2="292.00" stroke="#9b9b9b" stroke-width="1.6" />
<rect x="414.00" y="289.10" width="6.00" height="6.00" fill="#8f8f8f"/>
<line x1="433.20" y1="308.70" x2="433.20" y2="348.10" stroke="#000" stroke-width="1.45" />
<line x1="429.70" y1="308.70" x2="436.70" y2="308.70" stroke="#000" stroke-width="1.2" />
<line x1="429.70" y1="348.10" x2="436.70" y2="348.10" stroke="#000" stroke-width="1.2" />
<line x1="464.13" y1="335.50" x2="464.13" y2="348.50" stroke="#000" stroke-width="1.45" />
<line x1="460.63" y1="335.50" x2="467.63" y2="335.50" stroke="#000" stroke-width="1.2" />
<line x1="460.63" y1="348.50" x2="467.63" y2="348.50" stroke="#000" stroke-width="1.2" />
<line x1="495.06" y1="296.90" x2="495.06" y2="328.20" stroke="#000" stroke-width="1.45" />
<line x1="491.56" y1="296.90" x2="498.56" y2="296.90" stroke="#000" stroke-width="1.2" />
<line x1="491.56" y1="328.20" x2="498.56" y2="328.20" stroke="#000" stroke-width="1.2" />
<line x1="525.99" y1="282.00" x2="525.99" y2="336.30" stroke="#000" stroke-width="1.45" />
<line x1="522.49" y1="282.00" x2="529.49" y2="282.00" stroke="#000" stroke-width="1.2" />
<line x1="522.49" y1="336.30" x2="529.49" y2="336.30" stroke="#000" stroke-width="1.2" />
<line x1="556.92" y1="309.00" x2="556.92" y2="330.00" stroke="#000" stroke-width="1.45" />
<line x1="553.42" y1="309.00" x2="560.42" y2="309.00" stroke="#000" stroke-width="1.2" />
<line x1="553.42" y1="330.00" x2="560.42" y2="330.00" stroke="#000" stroke-width="1.2" />
<line x1="587.85" y1="320.70" x2="587.85" y2="343.50" stroke="#000" stroke-width="1.45" />
<line x1="584.35" y1="320.70" x2="591.35" y2="320.70" stroke="#000" stroke-width="1.2" />
<line x1="584.35" y1="343.50" x2="591.35" y2="343.50" stroke="#000" stroke-width="1.2" />
<line x1="618.78" y1="315.00" x2="618.78" y2="344.00" stroke="#000" stroke-width="1.45" />
<line x1="615.28" y1="315.00" x2="622.28" y2="315.00" stroke="#000" stroke-width="1.2" />
<line x1="615.28" y1="344.00" x2="622.28" y2="344.00" stroke="#000" stroke-width="1.2" />
<polyline points="433.20,328.40 464.13,342.00 495.06,312.40 525.99,309.00 556.92,319.00 587.85,331.80 618.78,329.50" fill="none" stroke="#000" stroke-width="1.5" stroke-linejoin="round" />
<circle cx="433.20" cy="328.40" r="2.90" fill="#000"/>
<circle cx="464.13" cy="342.00" r="2.90" fill="#000"/>
<circle cx="495.06" cy="312.40" r="2.90" fill="#000"/>
<circle cx="525.99" cy="309.00" r="2.90" fill="#000"/>
<circle cx="556.92" cy="319.00" r="2.90" fill="#000"/>
<circle cx="587.85" cy="331.80" r="2.90" fill="#000"/>
<circle cx="618.78" cy="329.50" r="2.90" fill="#000"/>
<line x1="433.20" y1="335.50" x2="433.20" y2="366.60" stroke="#9b9b9b" stroke-width="1.45" />
<line x1="429.70" y1="335.50" x2="436.70" y2="335.50" stroke="#9b9b9b" stroke-width="1.2" />
<line x1="429.70" y1="366.60" x2="436.70" y2="366.60" stroke="#9b9b9b" stroke-width="1.2" />
<line x1="464.13" y1="329.50" x2="464.13" y2="363.20" stroke="#9b9b9b" stroke-width="1.45" />
<line x1="460.63" y1="329.50" x2="467.63" y2="329.50" stroke="#9b9b9b" stroke-width="1.2" />
<line x1="460.63" y1="363.20" x2="467.63" y2="363.20" stroke="#9b9b9b" stroke-width="1.2" />
<line x1="495.06" y1="341.30" x2="495.06" y2="369.30" stroke="#9b9b9b" stroke-width="1.45" />
<line x1="491.56" y1="341.30" x2="498.56" y2="341.30" stroke="#9b9b9b" stroke-width="1.2" />
<line x1="491.56" y1="369.30" x2="498.56" y2="369.30" stroke="#9b9b9b" stroke-width="1.2" />
<line x1="525.99" y1="351.70" x2="525.99" y2="378.80" stroke="#9b9b9b" stroke-width="1.45" />
<line x1="522.49" y1="351.70" x2="529.49" y2="351.70" stroke="#9b9b9b" stroke-width="1.2" />
<line x1="522.49" y1="378.80" x2="529.49" y2="378.80" stroke="#9b9b9b" stroke-width="1.2" />
<line x1="556.92" y1="366.00" x2="556.92" y2="387.60" stroke="#9b9b9b" stroke-width="1.45" />
<line x1="553.42" y1="366.00" x2="560.42" y2="366.00" stroke="#9b9b9b" stroke-width="1.2" />
<line x1="553.42" y1="387.60" x2="560.42" y2="387.60" stroke="#9b9b9b" stroke-width="1.2" />
<line x1="587.85" y1="369.00" x2="587.85" y2="395.30" stroke="#9b9b9b" stroke-width="1.45" />
<line x1="584.35" y1="369.00" x2="591.35" y2="369.00" stroke="#9b9b9b" stroke-width="1.2" />
<line x1="584.35" y1="395.30" x2="591.35" y2="395.30" stroke="#9b9b9b" stroke-width="1.2" />
<line x1="618.78" y1="356.30" x2="618.78" y2="391.60" stroke="#9b9b9b" stroke-width="1.45" />
<line x1="615.28" y1="356.30" x2="622.28" y2="356.30" stroke="#9b9b9b" stroke-width="1.2" />
<line x1="615.28" y1="391.60" x2="622.28" y2="391.60" stroke="#9b9b9b" stroke-width="1.2" />
<polyline points="433.20,350.80 464.13,346.70 495.06,355.50 525.99,364.80 556.92,376.80 587.85,382.50 618.78,374.50" fill="none" stroke="#9b9b9b" stroke-width="1.5" stroke-linejoin="round" />
<rect x="430.30" y="347.90" width="5.80" height="5.80" fill="#8f8f8f"/>
<rect x="461.23" y="343.80" width="5.80" height="5.80" fill="#8f8f8f"/>
<rect x="492.16" y="352.60" width="5.80" height="5.80" fill="#8f8f8f"/>
<rect x="523.09" y="361.90" width="5.80" height="5.80" fill="#8f8f8f"/>
<rect x="554.02" y="373.90" width="5.80" height="5.80" fill="#8f8f8f"/>
<rect x="584.95" y="379.60" width="5.80" height="5.80" fill="#8f8f8f"/>
<rect x="615.88" y="371.60" width="5.80" height="5.80" fill="#8f8f8f"/>
<g transform="matrix(1 0.001 0 1 0 0)">
<g transform="translate(0 -0.009)"><text x="9.00" y="11.60" font-size="16" font-weight="bold" >A</text></g>
<g transform="translate(0 -0.353)"><text x="353.10" y="18.10" font-size="16" font-weight="bold" >B</text></g>
<g transform="translate(0 0.000)"><text x="-0.20" y="260.70" font-size="16" font-weight="bold" >C</text></g>
<g transform="translate(0 -0.347)"><text x="347.00" y="254.20" font-size="16" font-weight="bold" >D</text></g>
<g transform="translate(0 -0.052)"><text x="52.40" y="18.32" font-size="10.6" text-anchor="end" >3.0</text></g>
<g transform="translate(0 -0.052)"><text x="52.40" y="53.69" font-size="10.6" text-anchor="end" >2.5</text></g>
<g transform="translate(0 -0.052)"><text x="52.40" y="89.07" font-size="10.6" text-anchor="end" >2.0</text></g>
<g transform="translate(0 -0.052)"><text x="52.40" y="124.44" font-size="10.6" text-anchor="end" >1.5</text></g>
<g transform="translate(0 -0.052)"><text x="52.40" y="159.82" font-size="10.6" text-anchor="end" >1.0</text></g>
<g transform="translate(0 -0.090)"><text x="90.10" y="182.50" font-size="10.3" text-anchor="middle" >0</text></g>
<g transform="translate(0 -0.122)"><text x="122.10" y="182.50" font-size="10.3" text-anchor="middle" >30</text></g>
<g transform="translate(0 -0.154)"><text x="154.10" y="182.50" font-size="10.3" text-anchor="middle" >60</text></g>
<g transform="translate(0 -0.186)"><text x="186.10" y="182.50" font-size="10.3" text-anchor="middle" >120</text></g>
<g transform="translate(0 -0.218)"><text x="218.10" y="182.50" font-size="10.3" text-anchor="middle" >180</text></g>
<g transform="translate(0 -0.250)"><text x="250.10" y="182.50" font-size="10.3" text-anchor="middle" >240</text></g>
<g transform="translate(0 -0.282)"><text x="282.10" y="182.50" font-size="10.3" text-anchor="middle" >300</text></g>
<g transform="translate(0 -0.170)"><text x="170.30" y="206.20" font-size="11.4" text-anchor="middle" >Time (min)</text></g>
<g transform="translate(0 -0.018)"><text x="18.20" y="83.40" font-size="11.2" text-anchor="middle" class="yl" transform="rotate(-90 18.2 83.4)">TAG (mmol/L)</text></g>
<g transform="translate(0 -0.103)"><text x="103.40" y="18.03" font-size="9.8" class="lg" textLength="41.3" lengthAdjust="spacingAndGlyphs">WD run-in</text></g>
<g transform="translate(0 -0.103)"><text x="103.40" y="30.23" font-size="9.8" class="lg" textLength="67.4" lengthAdjust="spacingAndGlyphs">WD intervention</text></g>
<g transform="translate(0 -0.103)"><text x="103.40" y="41.23" font-size="9.8" class="lg" textLength="39.2" lengthAdjust="spacingAndGlyphs">HD run-in</text></g>
<g transform="translate(0 -0.103)"><text x="103.40" y="54.13" font-size="9.8" class="lg" textLength="65.3" lengthAdjust="spacingAndGlyphs">HD intervention</text></g>
<g transform="translate(0 -0.051)"><text x="51.40" y="275.07" font-size="10.6" text-anchor="end" >10000</text></g>
<g transform="translate(0 -0.051)"><text x="51.40" y="318.43" font-size="10.6" text-anchor="end" >8000</text></g>
<g transform="translate(0 -0.051)"><text x="51.40" y="361.80" font-size="10.6" text-anchor="end" >6000</text></g>
<g transform="translate(0 -0.051)"><text x="51.40" y="405.16" font-size="10.6" text-anchor="end" >4000</text></g>
<g transform="translate(0 -0.090)"><text x="90.10" y="429.00" font-size="10.3" text-anchor="middle" >0</text></g>
<g transform="translate(0 -0.123)"><text x="122.80" y="429.00" font-size="10.3" text-anchor="middle" >30</text></g>
<g transform="translate(0 -0.155)"><text x="155.50" y="429.00" font-size="10.3" text-anchor="middle" >60</text></g>
<g transform="translate(0 -0.188)"><text x="188.20" y="429.00" font-size="10.3" text-anchor="middle" >120</text></g>
<g transform="translate(0 -0.221)"><text x="220.90" y="429.00" font-size="10.3" text-anchor="middle" >180</text></g>
<g transform="translate(0 -0.254)"><text x="253.60" y="429.00" font-size="10.3" text-anchor="middle" >240</text></g>
<g transform="translate(0 -0.286)"><text x="286.30" y="429.00" font-size="10.3" text-anchor="middle" >300</text></g>
<g transform="translate(0 -0.172)"><text x="171.90" y="452.40" font-size="11.8" text-anchor="middle" >Time (min)</text></g>
<g transform="translate(0 -0.012)"><text x="11.90" y="335.30" font-size="11.7" text-anchor="middle" class="yl" transform="rotate(-90 11.9 335.3)">ApoB48 (ng/mL)</text></g>
<g transform="translate(0 -0.106)"><text x="106.50" y="274.53" font-size="9.8" class="lg" textLength="41.2" lengthAdjust="spacingAndGlyphs">WD run-in</text></g>
<g transform="translate(0 -0.106)"><text x="106.50" y="287.13" font-size="9.8" class="lg" textLength="68.1" lengthAdjust="spacingAndGlyphs">WD intervention</text></g>
<g transform="translate(0 -0.106)"><text x="106.50" y="300.23" font-size="9.8" class="lg" textLength="40.3" lengthAdjust="spacingAndGlyphs">HD run-in</text></g>
<g transform="translate(0 -0.106)"><text x="106.50" y="313.33" font-size="9.8" class="lg" textLength="65.9" lengthAdjust="spacingAndGlyphs">HD intervention</text></g>
<g transform="translate(0 -0.402)"><text x="402.00" y="33.28" font-size="10.5" text-anchor="end" >1.0</text></g>
<g transform="translate(0 -0.402)"><text x="402.00" y="61.68" font-size="10.5" text-anchor="end" >0.5</text></g>
<g transform="translate(0 -0.402)"><text x="402.00" y="90.08" font-size="10.5" text-anchor="end" >0.0</text></g>
<g transform="translate(0 -0.402)"><text x="402.00" y="118.48" font-size="10.5" text-anchor="end" >-0.5</text></g>
<g transform="translate(0 -0.402)"><text x="402.00" y="146.88" font-size="10.5" text-anchor="end" >-1.0</text></g>
<g transform="translate(0 -0.402)"><text x="402.00" y="175.28" font-size="10.5" text-anchor="end" >-1.5</text></g>
<g transform="translate(0 -0.439)"><text x="438.80" y="180.90" font-size="10.5" text-anchor="middle" >0</text></g>
<g transform="translate(0 -0.470)"><text x="469.57" y="180.90" font-size="10.5" text-anchor="middle" >30</text></g>
<g transform="translate(0 -0.500)"><text x="500.34" y="180.90" font-size="10.5" text-anchor="middle" >60</text></g>
<g transform="translate(0 -0.531)"><text x="531.11" y="180.90" font-size="10.5" text-anchor="middle" >120</text></g>
<g transform="translate(0 -0.562)"><text x="561.88" y="180.90" font-size="10.5" text-anchor="middle" >180</text></g>
<g transform="translate(0 -0.593)"><text x="592.65" y="180.90" font-size="10.5" text-anchor="middle" >240</text></g>
<g transform="translate(0 -0.623)"><text x="623.42" y="180.90" font-size="10.5" text-anchor="middle" >300</text></g>
<g transform="translate(0 -0.516)"><text x="515.90" y="206.40" font-size="11.8" text-anchor="middle" >Time (min)</text></g>
<g transform="translate(0 -0.363)"><text x="363.20" y="98.80" font-size="11.9" text-anchor="middle" class="yl" transform="rotate(-90 363.2 98.8)">Change in TAG (mmol/L)</text></g>
<g transform="translate(0 -0.480)"><text x="480.00" y="16.10" font-size="11.5" >diet*time, <tspan font-style="italic">P</tspan>&lt;0.001</text></g>
<g transform="translate(0 -0.530)"><text x="530.30" y="64.05" font-size="13" font-weight="bold" text-anchor="middle" >*</text></g>
<g transform="translate(0 -0.562)"><text x="562.00" y="54.00" font-size="13" font-weight="bold" text-anchor="middle" >*</text></g>
<g transform="translate(0 -0.593)"><text x="592.55" y="47.65" font-size="13" font-weight="bold" text-anchor="middle" >*</text></g>
<g transform="translate(0 -0.623)"><text x="623.40" y="53.20" font-size="13" font-weight="bold" text-anchor="middle" >*</text></g>
<g transform="translate(0 -0.441)"><text x="440.80" y="35.30" font-size="11" >WD</text></g>
<g transform="translate(0 -0.441)"><text x="440.80" y="52.60" font-size="11" >HD</text></g>
<g transform="translate(0 -0.396)"><text x="396.00" y="276.98" font-size="10.5" text-anchor="end" >2000</text></g>
<g transform="translate(0 -0.396)"><text x="396.00" y="305.90" font-size="10.5" text-anchor="end" >1000</text></g>
<g transform="translate(0 -0.396)"><text x="396.00" y="334.82" font-size="10.5" text-anchor="end" >0</text></g>
<g transform="translate(0 -0.396)"><text x="396.00" y="363.74" font-size="10.5" text-anchor="end" >-1000</text></g>
<g transform="translate(0 -0.396)"><text x="396.00" y="392.66" font-size="10.5" text-anchor="end" >-2000</text></g>
<g transform="translate(0 -0.396)"><text x="396.00" y="421.58" font-size="10.5" text-anchor="end" >-3000</text></g>
<g transform="translate(0 -0.433)"><text x="433.20" y="430.60" font-size="10.5" text-anchor="middle" >0</text></g>
<g transform="translate(0 -0.464)"><text x="464.13" y="430.60" font-size="10.5" text-anchor="middle" >30</text></g>
<g transform="translate(0 -0.495)"><text x="495.06" y="430.60" font-size="10.5" text-anchor="middle" >60</text></g>
<g transform="translate(0 -0.526)"><text x="525.99" y="430.60" font-size="10.5" text-anchor="middle" >120</text></g>
<g transform="translate(0 -0.557)"><text x="556.92" y="430.60" font-size="10.5" text-anchor="middle" >180</text></g>
<g transform="translate(0 -0.588)"><text x="587.85" y="430.60" font-size="10.5" text-anchor="middle" >240</text></g>
<g transform="translate(0 -0.619)"><text x="618.78" y="430.60" font-size="10.5" text-anchor="middle" >300</text></g>
<g transform="translate(0 -0.511)"><text x="510.60" y="454.00" font-size="11.8" text-anchor="middle" >Time (min)</text></g>
<g transform="translate(0 -0.355)"><text x="355.00" y="343.85" font-size="11.8" text-anchor="middle" class="yl" transform="rotate(-90 355.0 343.85)">Change in apoB48 (ng/mL)</text></g>
<g transform="translate(0 -0.476)"><text x="476.10" y="254.90" font-size="11.5" ><tspan font-style="italic">diet, P</tspan>=0.002</text></g>
<g transform="translate(0 -0.434)"><text x="433.70" y="278.70" font-size="11.3" >WD</text></g>
<g transform="translate(0 -0.434)"><text x="433.70" y="295.90" font-size="11.3" >HD</text></g>
</g>
</g></svg>
</body></html>
